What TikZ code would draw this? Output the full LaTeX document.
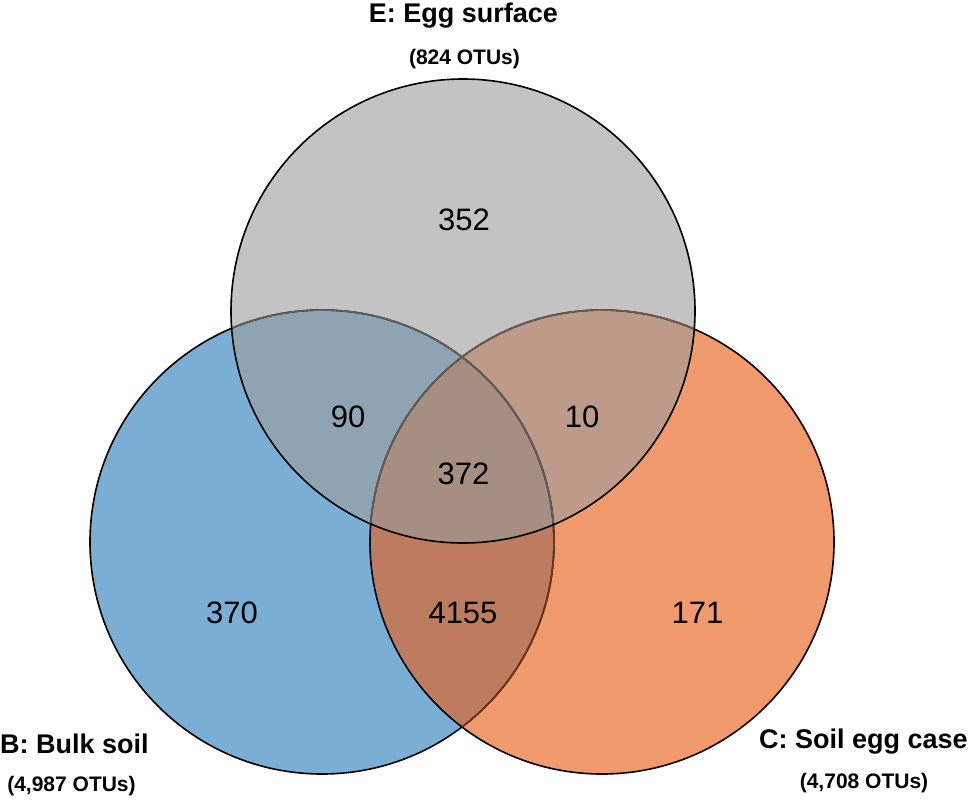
\documentclass[tikz,border=0pt]{standalone}
\usepackage{fontspec}
\setmainfont{Liberation Sans}
\definecolor{blueB}{RGB}{122,174,212}
\definecolor{orangeC}{RGB}{240,154,110}
\definecolor{grayE}{RGB}{195,195,195}
\definecolor{colBE}{RGB}{143,164,178}
\definecolor{colEC}{RGB}{189,154,138}
\definecolor{colBC}{RGB}{189,124,95}
\definecolor{colBCE}{RGB}{166,142,131}
\definecolor{arcBrown}{RGB}{120,52,15}
\definecolor{arcGray}{RGB}{95,95,95}
\definecolor{arcGrayBrown}{RGB}{110,92,82}
\begin{document}
\begin{tikzpicture}[x=1pt,y=-1pt,
  num/.style={inner sep=0pt,anchor=center,font=\fontsize{31}{31}\selectfont},
  ttl/.style={inner sep=0pt,font=\fontsize{27}{27}\selectfont\bfseries},
  sub/.style={inner sep=0pt,anchor=base,font=\fontsize{21}{21}\selectfont\bfseries},
  outline/.style={line width=1.6pt}]
\useasboundingbox (0,0) rectangle (968,800);
\fill[white] (0,0) rectangle (968,800);
\def\R{232}
\coordinate (cE) at (463,311);
\coordinate (cB) at (322,542);
\coordinate (cC) at (602,542);
% single fills
\fill[blueB] (cB) circle (\R);
\fill[orangeC] (cC) circle (\R);
\fill[grayE] (cE) circle (\R);
% pairwise overlaps
\begin{scope}\clip (cB) circle (\R); \fill[colBC] (cC) circle (\R); \end{scope}
\begin{scope}\clip (cB) circle (\R); \fill[colBE] (cE) circle (\R); \end{scope}
\begin{scope}\clip (cC) circle (\R); \fill[colEC] (cE) circle (\R); \end{scope}
% triple overlap
\begin{scope}\clip (cB) circle (\R); \clip (cC) circle (\R); \fill[colBCE] (cE) circle (\R); \end{scope}
% outlines
\draw[outline,black] (cB) circle (\R);
\draw[outline,black] (cC) circle (\R);
\begin{scope}\clip (cC) circle (\R); \draw[outline,arcBrown] (cB) circle (\R); \end{scope}
\begin{scope}\clip (cE) circle (\R);
  \draw[outline,arcGray] (cB) circle (\R);
  \draw[outline,arcGrayBrown] (cC) circle (\R);
\end{scope}
\draw[outline,black] (cE) circle (\R);
% region counts
\node[num] (nE) at (464,219.5) {352};
\node[num] (nBE) at (348,416.5) {90};
\node[num] (nEC) at (582,416.5) {10};
\node[num] (nBCE) at (463.5,474) {372};
\node[num] (nB) at (232,613) {370};
\node[num] (nBC) at (463,613) {4155};
\node[num] (nC) at (697.5,613) {171};
% set labels
\node[ttl,anchor=base] (tE) at (463.5,23) {E: Egg surface};
\node[sub] (sE) at (464.5,64.5) {(824 OTUs)};
\node[ttl,anchor=base west] (tB) at (0,753) {B: Bulk soil};
\node[sub] (sB) at (71.5,791) {(4,987 OTUs)};
\node[ttl,anchor=base west] (tC) at (759,748) {C: Soil egg case};
\node[sub] (sC) at (864,788) {(4,708 OTUs)};
\end{tikzpicture}
\end{document}
